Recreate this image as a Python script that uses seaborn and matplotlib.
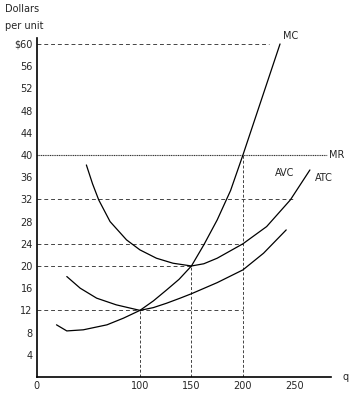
import pandas as pd
import matplotlib.pyplot as plt
import seaborn as sns

# cost curves (q, dollars per unit)
mc_q = [19, 29, 45, 68, 84, 100, 113, 126, 138, 150, 162, 175, 188, 200, 218, 236]
mc_v = [9.4, 8.3, 8.5, 9.4, 10.6, 12, 13.7, 15.7, 17.6, 20, 23.8, 28.3, 33.6, 40, 50, 60]

atc_q = [48, 54, 60, 71, 87, 100, 116, 132, 150, 162, 175, 200, 223, 246, 265]
atc_v = [38.2, 34.8, 31.9, 28.0, 24.7, 22.9, 21.4, 20.5, 20, 20.4, 21.4, 24, 27.1, 31.9, 37.3]

avc_q = [29, 42, 58, 77, 100, 113, 126, 139, 150, 175, 200, 220, 242]
avc_v = [18.1, 16.0, 14.2, 13.0, 12, 12.5, 13.3, 14.2, 15.0, 17.0, 19.3, 22.3, 26.5]

mr_price = 40
mr_q = [0, 282]

yticks = [4, 8, 12, 16, 20, 24, 28, 32, 36, 40, 44, 48, 52, 56, 60]
ytick_labels = ["4", "8", "12", "16", "20", "24", "28", "32", "36", "40",
                "44", "48", "52", "56", "$60"]
xticks = [0, 100, 150, 200, 250]
xtick_labels = ["0", "100", "150", "200", "250"]

# dashed guide lines: (price, q where it stops)
h_guides = [(60, 225), (32, 250), (24, 200), (20, 150), (12, 200)]
# vertical guides: (q, price where it starts)
v_guides = [(100, 12), (150, 20), (200, 40)]

sns.set_style("white")
plt.rcParams['font.family'] = ['DejaVu Sans']

fig = plt.figure(figsize=(3.62, 3.96), dpi=100)
ax = fig.add_axes([0.102, 0.048, 0.811, 0.855])

dash = (0, (4, 3))
for p, q_end in h_guides:
    ax.plot([0, q_end], [p, p], color="#444444", lw=0.7, ls=dash)
for q, p in v_guides:
    ax.plot([q, q], [0, p], color="#444444", lw=0.7, ls=(0, (3, 2)))

ax.plot(mr_q, [mr_price, mr_price], color="#333333", lw=0.8, ls=(0, (1, 0.6)))

curves = pd.concat([
    pd.DataFrame({"q": mc_q, "v": mc_v, "curve": "MC"}),
    pd.DataFrame({"q": atc_q, "v": atc_v, "curve": "ATC"}),
    pd.DataFrame({"q": avc_q, "v": avc_v, "curve": "AVC"}),
])
sns.lineplot(data=curves, x="q", y="v", units="curve", estimator=None,
             sort=False, color="black", lw=0.9, ax=ax)

fs = 7
ax.text(239, 61.5, "MC", fontsize=fs, va="center")
ax.text(284, 40, "MR", fontsize=fs, va="center")
ax.text(270, 35.8, "ATC", fontsize=fs, va="center")
ax.text(231, 36.8, "AVC", fontsize=fs, va="center")
ax.text(297, 0, "q", fontsize=fs, va="center")
fig.text(0.015, 0.978, "Dollars", fontsize=fs, va="center")
fig.text(0.015, 0.935, "per unit", fontsize=fs, va="center")

ax.set_xlim(0, 285)
ax.set_ylim(0, 61)
ax.set_xticks(xticks)
ax.set_xticklabels(xtick_labels)
ax.set_yticks(yticks)
ax.set_yticklabels(ytick_labels)
ax.tick_params(direction="in", length=4, width=0.8, labelsize=fs, pad=3)
ax.set_xlabel("")
ax.set_ylabel("")
for side in ["top", "right"]:
    ax.spines[side].set_visible(False)
for side in ["left", "bottom"]:
    ax.spines[side].set_color("black")
    ax.spines[side].set_linewidth(1.2)

fig.savefig("out.png", dpi=100)
